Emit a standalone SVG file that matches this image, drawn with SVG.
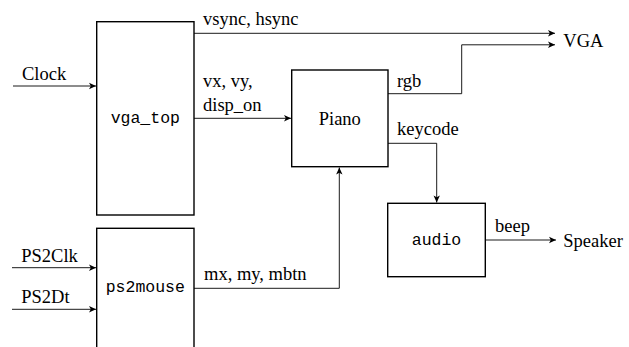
<svg xmlns="http://www.w3.org/2000/svg" width="629" height="347" viewBox="0 0 629 347">
<defs>
<style>
.box{fill:#fff;stroke:#000;stroke-width:1.4}
.w{fill:none;stroke:#000;stroke-width:0.9}
.t{font-family:"Liberation Serif","Times New Roman",serif;font-size:18.5px;fill:#000}
.m{font-family:"Liberation Mono","Courier New",monospace;font-size:16.5px;fill:#000;text-anchor:middle}
.c{text-anchor:middle}
</style>
<marker id="ah" viewBox="-8 -4 9 8" markerWidth="9" markerHeight="8" refX="0" refY="0" orient="auto" markerUnits="userSpaceOnUse">
<path d="M0,0 L-7,-3.2 L-5.2,0 L-7,3.2 z" fill="#000"/>
</marker>
</defs>
<rect width="629" height="347" fill="#fff"/>
<g id="connectors">
<path class="w" d="M13,86 H96" marker-end="url(#ah)"/>
<path class="w" d="M194,33.3 H555" marker-end="url(#ah)"/>
<path class="w" d="M194,118.3 H291" marker-end="url(#ah)"/>
<path class="w" d="M388,93.7 H461.7 V44.8 H555" marker-end="url(#ah)"/>
<path class="w" d="M388,143.3 H436.7 V202.5" marker-end="url(#ah)"/>
<path class="w" d="M485.3,240 H556" marker-end="url(#ah)"/>
<path class="w" d="M194,288.3 H339.3 V167.5" marker-end="url(#ah)"/>
<path class="w" d="M12,267.7 H96" marker-end="url(#ah)"/>
<path class="w" d="M12,309.3 H96" marker-end="url(#ah)"/>
</g>
<g id="labels">
<text class="t" x="22" y="80">Clock</text>
<text class="t" x="203" y="25">vsync, hsync</text>
<text class="t" x="203" y="86.5">vx, vy,</text>
<text class="t" x="203" y="111">disp_on</text>
<text class="t" x="397" y="87.3">rgb</text>
<text class="t" x="397" y="135">keycode</text>
<text class="t" x="495" y="231.7">beep</text>
<text class="t" x="204" y="280">mx, my, mbtn</text>
<text class="t" x="21.3" y="261.7">PS2Clk</text>
<text class="t" x="21.3" y="302.7">PS2Dt</text>
<text class="t" x="563.3" y="46.7">VGA</text>
<text class="t" x="563.3" y="246.5">Speaker</text>
</g>
<g id="vga_top">
<rect class="box" x="96.7" y="21.7" width="97.3" height="193.3"/>
<text class="m" x="145.3" y="123">vga_top</text>
</g>
<g id="ps2mouse">
<rect class="box" x="96.7" y="228.3" width="97.3" height="130"/>
<text class="m" x="145.3" y="292">ps2mouse</text>
</g>
<g id="piano">
<rect class="box" x="291.7" y="70" width="96.3" height="96.7"/>
<text class="t c" x="339.8" y="125">Piano</text>
</g>
<g id="audio">
<rect class="box" x="387.7" y="203.3" width="97.6" height="73.4"/>
<text class="m" x="436.5" y="245">audio</text>
</g>
</svg>
